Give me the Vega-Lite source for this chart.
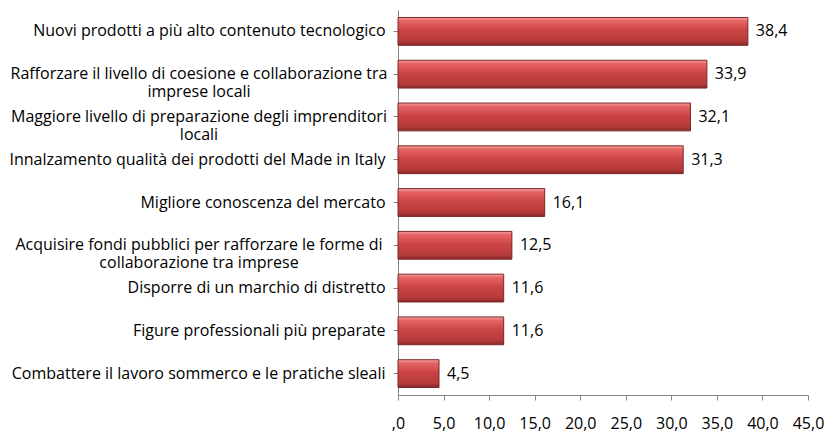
{
  "$schema": "https://vega.github.io/schema/vega-lite/v6.json",
  "width": 410,
  "height": 385,
  "autosize": "none",
  "padding": {"left": 398, "top": 10, "right": 18, "bottom": 37},
  "background": "white",
  "data": {
    "values": [
      {"cat": "Nuovi prodotti a più alto contenuto tecnologico", "v": 38.4, "multi": false},
      {"cat": "Rafforzare il livello di coesione e collaborazione tra|imprese locali", "v": 33.9, "multi": true},
      {"cat": "Maggiore livello di preparazione degli imprenditori|locali", "v": 32.1, "multi": true},
      {"cat": "Innalzamento qualità dei prodotti del Made in Italy", "v": 31.3, "multi": false},
      {"cat": "Migliore conoscenza del mercato", "v": 16.1, "multi": false},
      {"cat": "Acquisire fondi pubblici per rafforzare le forme di|collaborazione tra imprese", "v": 12.5, "multi": true},
      {"cat": "Disporre di un marchio di distretto", "v": 11.6, "multi": false},
      {"cat": "Figure professionali più preparate", "v": 11.6, "multi": false},
      {"cat": "Combattere il lavoro sommerco e le pratiche sleali", "v": 4.5, "multi": false}
    ]
  },
  "layer": [
    {
      "mark": {
        "type": "bar",
        "fill": {
          "gradient": "linear",
          "x1": 0, "y1": 0, "x2": 0, "y2": 1,
          "stops": [
            {"offset": 0, "color": "#f4a3a3"},
            {"offset": 0.12, "color": "#e86565"},
            {"offset": 0.45, "color": "#cc4545"},
            {"offset": 0.85, "color": "#b63a3a"},
            {"offset": 1, "color": "#8a2a2a"}
          ]
        },
        "stroke": "#7a2626",
        "strokeWidth": 1
      },
      "encoding": {
        "y": {
          "field": "cat",
          "type": "nominal",
          "sort": null,
          "scale": {"paddingInner": 0.35, "paddingOuter": 0.175},
          "axis": {
            "title": null,
            "domainColor": "#868686",
            "tickColor": "#868686",
            "tickSize": 5,
            "labelFont": "Open Sans",
            "labelFontSize": 16,
            "labelColor": "#000000",
            "labelLimit": 0,
            "labelPadding": 8,
            "labelExpr": "indexof(datum.value, '|') >= 0 ? '' : datum.label"
          }
        },
        "x": {
          "field": "v",
          "type": "quantitative",
          "scale": {"domain": [0, 45]},
          "axis": {
            "title": null,
            "values": [0, 5, 10, 15, 20, 25, 30, 35, 40, 45],
            "labelExpr": "datum.value == 0 ? ',0' : replace(format(datum.value, '.1f'), '.', ',')",
            "grid": false,
            "domainColor": "#868686",
            "tickColor": "#868686",
            "tickSize": 5,
            "labelPadding": 15,
            "labelFont": "Open Sans",
            "labelFontSize": 16,
            "labelColor": "#000000",
            "labelFlush": false,
            "labelOverlap": false
          }
        }
      }
    },
    {
      "transform": [{"calculate": "replace(format(datum.v, '.1f'), '.', ',')", "as": "lbl"}],
      "mark": {"type": "text", "align": "left", "baseline": "middle", "dx": 8, "font": "Open Sans", "fontSize": 16, "color": "#000000"},
      "encoding": {
        "y": {"field": "cat", "type": "nominal", "sort": null},
        "x": {"field": "v", "type": "quantitative"},
        "text": {"field": "lbl", "type": "nominal"}
      }
    },
    {
      "transform": [{"filter": "datum.multi"}],
      "mark": {"type": "text", "align": "center", "baseline": "middle", "lineBreak": "|", "lineHeight": 18, "dx": -199, "font": "Open Sans", "fontSize": 16, "color": "#000000"},
      "encoding": {
        "y": {"field": "cat", "type": "nominal", "sort": null},
        "x": {"datum": 0, "type": "quantitative"},
        "text": {"field": "cat", "type": "nominal"}
      }
    }
  ],
  "config": {
    "view": {"stroke": null}
  }
}
